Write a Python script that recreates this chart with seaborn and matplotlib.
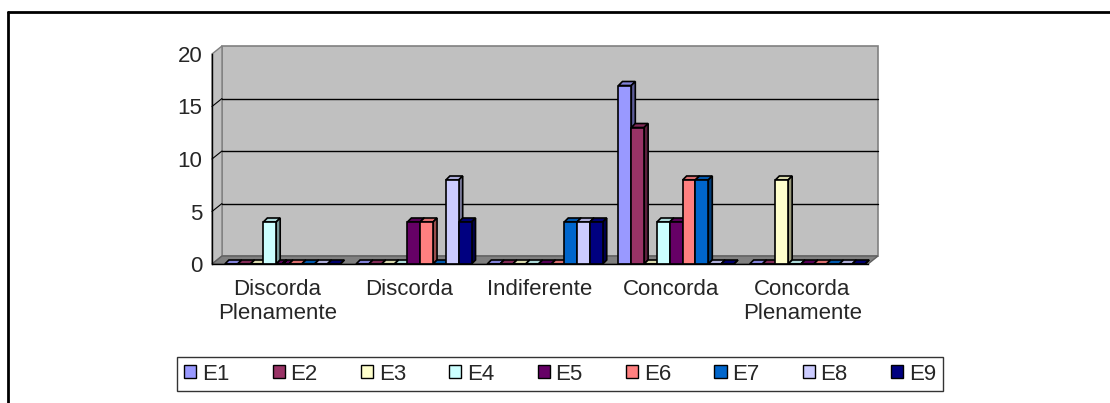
import numpy as np
import pandas as pd
import matplotlib
matplotlib.use("Agg")
import matplotlib.pyplot as plt
from matplotlib.patches import Polygon, Rectangle
from matplotlib.lines import Line2D
from matplotlib.transforms import ScaledTranslation, IdentityTransform
import matplotlib.colors as mcolors
import seaborn as sns

# ---- data -------------------------------------------------------------
categories = ["Discorda\nPlenamente", "Discorda", "Indiferente", "Concorda", "Concorda\nPlenamente"]
series = ["E1", "E2", "E3", "E4", "E5", "E6", "E7", "E8", "E9"]
E1 = [0, 0, 0, 17, 0]
E2 = [0, 0, 0, 13, 0]
E3 = [0, 0, 0, 0, 8]
E4 = [4, 0, 0, 4, 0]
E5 = [0, 4, 0, 4, 0]
E6 = [0, 4, 0, 8, 0]
E7 = [0, 0, 4, 8, 0]
E8 = [0, 8, 4, 0, 0]
E9 = [0, 4, 4, 0, 0]
values = [E1, E2, E3, E4, E5, E6, E7, E8, E9]
colors = ["#9999FF", "#993366", "#FFFFCC", "#CCFFFF", "#660066",
          "#FF8080", "#0066CC", "#CCCCFF", "#000080"]
y_ticks = [0, 5, 10, 15, 20]

df = pd.DataFrame([
    {"categoria": c, "serie": s, "valor": v[i]}
    for s, v in zip(series, values)
    for i, c in enumerate(categories)
])

# ---- figure -----------------------------------------------------------
W, H, DPI = 1110, 403, 100
FS = 16
sns.set_theme(style="white")
plt.rcParams["font.family"] = ["Liberation Sans", "DejaVu Sans"]
fig = plt.figure(figsize=(W / DPI, H / DPI), dpi=DPI)
fig.patch.set_facecolor("white")

# front plane of the plot area (pixels: x 212..868, y 54..264 from top)
ax = fig.add_axes([212 / W, 1 - 264 / H, 656 / W, 210 / H])
ax.set_facecolor("none")

sns.barplot(data=df, x="categoria", y="valor", hue="serie", order=categories,
            hue_order=series, palette=colors, edgecolor="black", linewidth=1.2,
            width=0.88, saturation=1, ax=ax, legend=True)
ax.set_xlim(-0.5, len(categories) - 0.5)
ax.set_ylim(0, 20)
fig.canvas.draw()

WALL_DX, WALL_DY = 10, 8      # depth of the walls, px
BAR_DX, BAR_DY = 4, 4         # depth of each column, px
SHIFT_X = 5                   # columns sit half-way into the floor

def disp(x, y, dx=0, dy=0):
    p = ax.transData.transform((x, y))
    return (p[0] + dx, p[1] + dy)

ident = IdentityTransform()
wall_off = ax.transData + ScaledTranslation(WALL_DX / DPI, WALL_DY / DPI, fig.dpi_scale_trans)
x0, x1 = ax.get_xlim()

# back wall, side wall and floor
back = Rectangle((x0, 0), x1 - x0, 20, transform=wall_off, facecolor="#C0C0C0",
                 edgecolor="#808080", linewidth=1.2, zorder=-3)
fig.patches.append(back)
back.set_figure(fig)
side = Polygon([disp(x0, 0), disp(x0, 0, WALL_DX, WALL_DY), disp(x0, 20, WALL_DX, WALL_DY), disp(x0, 20)],
               closed=True, transform=ident, facecolor="#C0C0C0", edgecolor="#808080",
               linewidth=1.0, zorder=-2)
floor = Polygon([disp(x0, 0), disp(x1, 0), disp(x1, 0, WALL_DX, WALL_DY), disp(x0, 0, WALL_DX, WALL_DY)],
                closed=True, transform=ident, facecolor="#808080", edgecolor="#606060",
                linewidth=1.0, zorder=-2)
for p in (side, floor):
    p.set_figure(fig)
    fig.patches.append(p)

# gridlines on the back wall, with short diagonals across the side wall
for v in y_ticks[1:-1]:
    fig.lines.append(Line2D([x0, x1], [v, v], transform=wall_off, color="black", linewidth=1.0, zorder=-1))
    fig.lines.append(Line2D([disp(x0, v)[0], disp(x0, v, WALL_DX, WALL_DY)[0]],
                            [disp(x0, v)[1], disp(x0, v, WALL_DX, WALL_DY)[1]],
                            transform=ident, color="black", linewidth=0.8, zorder=-1))
for l in fig.lines:
    l.set_figure(fig)

# columns: shift front faces and add top and side faces
bar_shift = ax.transData + ScaledTranslation(SHIFT_X / DPI, 0, fig.dpi_scale_trans)
for bar in list(ax.patches):
    x, w, h = bar.get_x(), bar.get_width(), bar.get_height()
    if np.isnan(h):
        continue
    rgb = np.array(mcolors.to_rgb(bar.get_facecolor()))
    bar.set_transform(bar_shift)
    bar.set_zorder(3)
    fr = disp(x + w, 0, SHIFT_X)
    tl = disp(x, h, SHIFT_X); tr = disp(x + w, h, SHIFT_X)
    top = Polygon([tl, tr, (tr[0] + BAR_DX, tr[1] + BAR_DY), (tl[0] + BAR_DX, tl[1] + BAR_DY)],
                  closed=True, transform=ident, facecolor=rgb * 0.85, edgecolor="black",
                  linewidth=1.2, zorder=2.5, clip_on=False)
    sd = Polygon([fr, tr, (tr[0] + BAR_DX, tr[1] + BAR_DY), (fr[0] + BAR_DX, fr[1] + BAR_DY)],
                 closed=True, transform=ident, facecolor=rgb * 0.6, edgecolor="black",
                 linewidth=1.2, zorder=2.5, clip_on=False)
    ax.add_patch(top)
    ax.add_patch(sd)

# axes lines, ticks and labels
for s in ("top", "right"):
    ax.spines[s].set_visible(False)
for s in ("left", "bottom"):
    ax.spines[s].set_color("black")
    ax.spines[s].set_linewidth(1.0)
    ax.spines[s].set_zorder(4)
ax.set_yticks(y_ticks)
ax.set_yticklabels([str(t) for t in y_ticks], fontsize=FS)
ax.tick_params(axis="y", direction="out", length=5, width=1, color="black", pad=2)
ax.set_xticks(np.arange(x0, x1 + 0.01, 1.0))
ax.set_xticklabels([])
ax.tick_params(axis="x", which="major", direction="out", length=6, width=1, color="black")
ax.set_xticks(np.arange(len(categories)), minor=True)
ax.set_xticklabels(categories, minor=True, fontsize=FS, linespacing=1.2)
ax.tick_params(axis="x", which="minor", length=0, pad=11)
ax.set_xlabel("")
ax.set_ylabel("")
ax.grid(False)

# legend
handles, labels = ax.get_legend_handles_labels()
ax.legend_.remove()
leg = fig.legend(handles, labels, loc="center", bbox_to_anchor=(560 / W, 1 - 374 / H),
                 ncol=9, frameon=True, fancybox=False, fontsize=FS,
                 handlelength=0.55, handleheight=0.55, handletextpad=0.25,
                 columnspacing=1.95, borderpad=0.3)
leg.get_frame().set_edgecolor("black")
leg.get_frame().set_linewidth(1.0)
for hnd in leg.legend_handles:
    hnd.set_edgecolor("black")
    hnd.set_linewidth(1.0)

# outer chart border (top and left edges)
fig.add_artist(Line2D([8 / W, 1.0], [1 - 12 / H, 1 - 12 / H], transform=fig.transFigure,
                      color="black", linewidth=2))
fig.add_artist(Line2D([8 / W, 8 / W], [0.0, 1 - 12 / H], transform=fig.transFigure,
                      color="black", linewidth=2))

fig.savefig("out.png", dpi=DPI)
